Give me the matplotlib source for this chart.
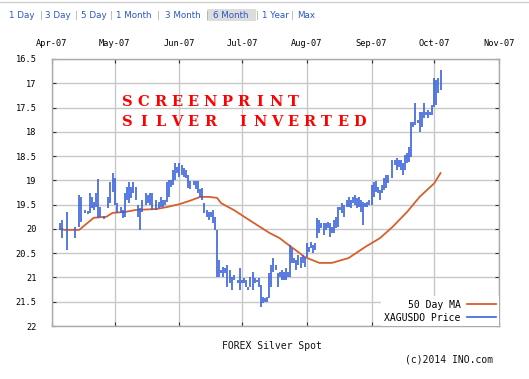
import matplotlib
matplotlib.use("Agg")
import matplotlib.pyplot as plt
import matplotlib.dates as mdates
import pandas as pd

# ---------------- data ----------------
start_date = "2007-04-01"
bar_day = [4, 5, 7, 11, 13, 14, 16, 17, 18, 19, 20, 21, 22, 23, 25, 27, 28, 29, 30, 31,
           33, 34, 35, 36, 37, 38, 39, 40, 41, 42, 43, 45, 46, 47, 48, 50, 51, 52, 53, 54,
           55, 56, 57, 58, 59, 60, 61, 62, 63, 64, 65, 66, 68, 69, 70, 71, 72, 73, 74, 75,
           76, 77, 78, 79, 80, 81, 82, 83, 84, 85, 86, 87, 89, 90, 91, 92, 93, 94, 95, 96,
           97, 98, 99, 100, 101, 102, 103, 104, 105, 106, 107, 108, 109, 110, 111, 112, 113, 114, 115, 116,
           117, 118, 119, 120, 121, 122, 123, 124, 125, 126, 127, 128, 129, 130, 131, 132, 133, 134, 135, 136,
           137, 138, 139, 140, 141, 142, 143, 144, 145, 146, 147, 148, 149, 150, 151, 152, 153, 154, 155, 156,
           157, 158, 159, 160, 161, 163, 164, 165, 166, 167, 168, 169, 170, 171, 172, 173, 174, 175, 176, 177,
           178, 179, 180, 181, 182, 183, 184, 185, 186]
bar_low = [19.88, 19.82, 19.65, 19.96, 19.30, 19.34, 19.62, 19.63, 19.26, 19.34, 19.45, 19.26, 18.97, 19.55, 19.74, 19.34, 19.04, 18.85, 18.95, 19.47,
           19.55, 19.61, 19.26, 19.14, 19.04, 19.14, 19.04, 19.14, 19.51, 19.57, 19.40, 19.26, 19.30, 19.26, 19.26, 19.40, 19.45, 19.34, 19.40, 19.40,
           19.04, 18.99, 18.99, 18.79, 18.64, 18.72, 18.64, 18.68, 18.74, 18.79, 18.89, 19.02, 19.02, 19.02, 19.02, 19.18, 19.16, 19.47, 19.61, 19.65,
           19.65, 19.61, 19.75, 20.02, 20.64, 20.85, 20.78, 20.80, 20.74, 20.85, 20.99, 20.95, 21.05, 20.80, 21.05, 21.01, 21.05, 21.20, 20.99, 20.89,
           21.01, 21.05, 21.01, 21.16, 21.40, 21.42, 21.40, 20.91, 20.74, 20.60, 20.74, 20.91, 20.89, 20.85, 20.89, 20.80, 20.89, 20.33, 20.39, 20.60,
           20.64, 20.54, 20.58, 20.54, 20.58, 20.29, 20.37, 20.27, 20.33, 20.29, 19.77, 19.82, 19.88, 19.88, 19.88, 19.86, 19.88, 19.96, 19.82, 19.75,
           19.55, 19.55, 19.47, 19.51, 19.40, 19.34, 19.40, 19.34, 19.30, 19.36, 19.34, 19.40, 19.45, 19.47, 19.45, 19.40, 19.10, 19.04, 19.02, 19.14,
           19.20, 19.10, 18.95, 18.89, 18.89, 18.58, 18.58, 18.54, 18.58, 18.58, 18.64, 18.48, 18.44, 18.31, 17.80, 17.80, 17.41, 17.76, 17.59, 17.59,
           17.41, 17.59, 17.55, 17.59, 17.45, 16.89, 16.93, 16.89, 16.73]
bar_high = [20.02, 20.19, 20.43, 20.19, 19.96, 19.86, 19.68, 19.70, 19.67, 19.57, 19.61, 19.55, 19.77, 19.75, 19.80, 19.57, 19.47, 19.24, 19.51, 19.67,
            19.67, 19.77, 19.75, 19.40, 19.47, 19.36, 19.26, 19.40, 19.75, 20.02, 19.65, 19.51, 19.47, 19.51, 19.61, 19.61, 19.57, 19.55, 19.55, 19.51,
            19.45, 19.34, 19.14, 19.10, 18.99, 18.85, 18.93, 18.89, 18.93, 18.95, 19.16, 19.18, 19.10, 19.18, 19.26, 19.34, 19.40, 19.67, 19.75, 19.82,
            19.75, 19.88, 20.02, 20.99, 20.99, 20.91, 20.99, 20.91, 21.20, 21.11, 21.26, 21.05, 21.11, 21.26, 21.11, 21.11, 21.20, 21.26, 21.20, 21.26,
            21.11, 21.09, 21.20, 21.61, 21.53, 21.50, 21.50, 21.42, 21.20, 20.89, 20.85, 21.20, 20.99, 21.05, 21.05, 21.05, 20.99, 20.99, 20.70, 20.70,
            20.85, 20.74, 20.80, 20.70, 20.78, 20.58, 20.48, 20.39, 20.50, 20.43, 20.19, 20.08, 19.98, 20.12, 20.02, 19.98, 20.17, 20.08, 20.08, 19.98,
            19.96, 19.61, 19.67, 19.75, 19.55, 19.55, 19.57, 19.47, 19.51, 19.57, 19.55, 19.65, 19.92, 19.55, 19.55, 19.51, 19.51, 19.34, 19.24, 19.26,
            19.40, 19.26, 19.20, 19.16, 19.06, 18.95, 18.68, 18.79, 18.72, 18.79, 18.89, 18.79, 18.64, 18.62, 18.52, 17.90, 17.86, 17.82, 18.00, 17.90,
            17.72, 17.65, 17.72, 17.65, 17.65, 17.49, 17.45, 17.20, 17.14]

ma_day = [4, 6, 13, 20, 26, 29, 35, 40, 50, 55, 61, 66, 71, 75, 79, 81, 87, 96, 104, 109,
          112, 118, 121, 128, 134, 142, 150, 157, 163, 170, 176, 183, 186]
ma_val = [20.00, 20.02, 20.02, 19.77, 19.75, 19.67, 19.65, 19.61, 19.59, 19.55, 19.49, 19.42, 19.34, 19.34, 19.36, 19.47, 19.61, 19.86, 20.08, 20.19,
          20.29, 20.48, 20.58, 20.70, 20.70, 20.60, 20.37, 20.19, 19.96, 19.65, 19.34, 19.06, 18.85]

month_ticks = ["2007-04-01", "2007-05-01", "2007-06-01", "2007-07-01",
               "2007-08-01", "2007-09-01", "2007-10-01", "2007-11-01"]
month_labels = ["Apr-07", "May-07", "Jun-07", "Jul-07", "Aug-07", "Sep-07", "Oct-07", "Nov-07"]
y_ticks = [16.5, 17, 17.5, 18, 18.5, 19, 19.5, 20, 20.5, 21, 21.5, 22]
y_labels = ["16.5", "17", "17.5", "18", "18.5", "19", "19.5", "20", "20.5", "21", "21.5", "22"]
menu_items = ["1 Day", "3 Day", "5 Day", "1 Month", "3 Month", "6 Month", "1 Year", "Max"]
selected_item = "6 Month"
series_names = ["50 Day MA", "XAGUSDO Price"]
overlay_lines = ["SCREENPRINT", "SILVER INVERTED"]

# ---------------- figure ----------------
W, H = 529, 379
fig = plt.figure(figsize=(W / 100, H / 100), dpi=100)
fig.patch.set_facecolor("white")
ax = fig.add_axes([52 / W, 1 - 326 / H, (499 - 52) / W, (326 - 59) / H])

t0 = pd.Timestamp(start_date)
bar_dates = [t0 + pd.Timedelta(days=d) for d in bar_day]
ma_dates = [t0 + pd.Timedelta(days=d) for d in ma_day]

blue = "#3b63dc"
orange = "#d5602c"
grid_c = "#c8c8c8"
mono = "DejaVu Sans Mono"

ax.vlines(bar_dates, bar_low, bar_high, color=blue, lw=1.2, zorder=3)
ax.plot([], [], color=orange, lw=1.3, label=series_names[0])
ax.plot([], [], color=blue, lw=1.2, label=series_names[1])
ax.plot(ma_dates, ma_val, color=orange, lw=1.3, zorder=2)

ax.set_xlim(pd.Timestamp(month_ticks[0]), pd.Timestamp(month_ticks[-1]))
ax.set_ylim(22, 16.5)
ax.set_xticks([pd.Timestamp(m) for m in month_ticks])
ax.set_xticklabels(month_labels, fontsize=6.2, family=mono)
ax.set_yticks(y_ticks)
ax.set_yticklabels(y_labels, fontsize=6.2, family=mono)
ax.xaxis.tick_top()
ax.tick_params(axis="x", which="both", direction="in", length=3, color="#333333",
               top=True, bottom=True, labeltop=True, labelbottom=False, pad=8)
ax.tick_params(axis="y", which="both", direction="in", length=3, color="#333333",
               left=True, right=True, pad=11)
ax.grid(True, color=grid_c, lw=1.0)
ax.set_axisbelow(True)
for s in ax.spines.values():
    s.set_color("#aaaaaa")
    s.set_linewidth(1.0)

leg = ax.legend(loc="lower right", bbox_to_anchor=(1.0, 0.0), markerfirst=False,
                prop={"family": mono, "size": 7}, frameon=True, fancybox=False,
                framealpha=1.0, facecolor="white", edgecolor="none",
                handlelength=2.9, handletextpad=0.7, labelspacing=0.3,
                borderpad=0.35, borderaxespad=0.0)
leg.set_zorder(5)

# overlay red text, monospaced letter pitch
pitch = 16.6
for row, (txt, yc) in enumerate(zip(overlay_lines, [102.5, 121.5])):
    for i, ch in enumerate(txt):
        if ch == " ":
            continue
        fig.text((127 + i * pitch) / W, 1 - yc / H, ch, color="#ff0000",
                 family="DejaVu Serif", weight="bold", fontsize=10.5,
                 ha="center", va="center")

# top menu
centers = [21.5, 58, 93.5, 134, 182.5, 231, 275, 306]
seps = [41, 76, 111, 158, 207, 257, 292]
fig.patches.append(plt.Rectangle((207 / W, 1 - 21 / H), 49 / W, 12 / H,
                                 transform=fig.transFigure, facecolor="#dcdcdc",
                                 edgecolor="none"))
for name, cx in zip(menu_items, centers):
    fig.text(cx / W, 1 - 15.5 / H, name, color="#2a56c6", family="DejaVu Sans",
             fontsize=6.3, ha="center", va="center")
for sx in seps:
    fig.text(sx / W, 1 - 15.5 / H, "|", color="#aaaaaa", family="DejaVu Sans",
             fontsize=6.5, ha="center", va="center")
fig.add_artist(plt.Line2D([0, 1], [1 - 1.5 / H, 1 - 1.5 / H], color="#d0d0d0", lw=1.0))

# footer texts
fig.text(272 / W, 1 - 346 / H, "FOREX Silver Spot", family=mono, fontsize=7,
         ha="center", va="center", color="#111111")
fig.text(405 / W, 1 - 359 / H, "(c)2014 INO.com", family=mono, fontsize=7,
         ha="left", va="center", color="#111111")

fig.savefig("out.png", dpi=100, facecolor="white")
